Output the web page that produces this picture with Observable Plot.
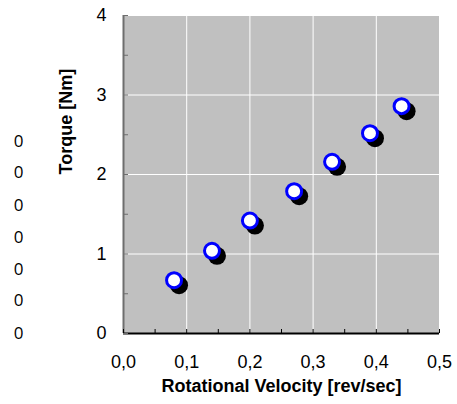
<!DOCTYPE html>
<html>
<head>
<meta charset="utf-8">
<script src="https://cdn.jsdelivr.net/npm/d3@7"></script>
<script src="https://cdn.jsdelivr.net/npm/@observablehq/plot@0.6"></script>
<style>
  html, body { margin: 0; padding: 0; background: #fff; }
  #chart svg { display: block; }
</style>
</head>
<body>
<div id="chart"></div>
<script>
// Data
const velocity = [0.08, 0.14, 0.20, 0.27, 0.33, 0.39, 0.44];
const torque   = [0.67, 1.04, 1.42, 1.79, 2.16, 2.52, 2.86];

const xTicks = [0, 0.1, 0.2, 0.3, 0.4, 0.5];
const xTickLabels = ["0,0", "0,1", "0,2", "0,3", "0,4", "0,5"];
const xMinorTicks = [0, 0.05, 0.1, 0.15, 0.2, 0.25, 0.3, 0.35, 0.4, 0.45, 0.5];
const yTicks = [0, 1, 2, 3, 4];
const yTickLabels = ["0", "1", "2", "3", "4"];
const yMinorTicks = [0, 0.5, 1, 1.5, 2, 2.5, 3, 3.5, 4];

// stray labels at the far left of the reference
const strayLabels = ["0", "0", "0", "0", "0", "0", "0"];
const strayLevels = [2.42, 2.02, 1.61, 1.21, 0.81, 0.41, 0];

const xTitle = "Rotational Velocity [rev/sec]";
const yTitle = "Torque [Nm]";

const points = velocity.map((v, i) => ({v, t: torque[i]}));
const stray = strayLabels.map((s, i) => ({s, y: strayLevels[i]}));

const chart = Plot.plot({
  width: 457,
  height: 404,
  marginLeft: 123,
  marginRight: 18,
  marginTop: 15,
  marginBottom: 71,
  style: {fontFamily: "'Liberation Sans', Arial, sans-serif", background: "#fff", color: "#000"},
  x: {domain: [0, 0.5], axis: null},
  y: {domain: [0, 4], axis: null},
  marks: [
    Plot.frame({fill: "#c0c0c0", stroke: null}),
    Plot.gridX(xTicks, {stroke: "#fff", strokeOpacity: 1, strokeWidth: 1}),
    Plot.gridY(yTicks, {stroke: "#fff", strokeOpacity: 1, strokeWidth: 1}),
    Plot.ruleX([0], {stroke: "#6e6e6e", strokeWidth: 2}),
    Plot.ruleY([0], {stroke: "#000", strokeWidth: 2}),
    // inward tick marks
    Plot.axisY(yMinorTicks, {anchor: "left", tickSize: 5, dx: 5, text: null, stroke: "#6e6e6e", label: null}),
    Plot.axisX(xMinorTicks, {anchor: "bottom", tickSize: 4, dy: -4, text: null, stroke: "#000", label: null}),
    // tick labels
    Plot.axisY(yTicks, {anchor: "left", tickSize: 0, tickPadding: 17, fontSize: 18,
      tickFormat: (d) => yTickLabels[yTicks.indexOf(d)], label: null}),
    Plot.axisX(xTicks, {anchor: "bottom", tickSize: 0, tickPadding: 22, fontSize: 18,
      tickFormat: (d) => xTickLabels[xTicks.indexOf(d)], label: null}),
    // axis titles
    Plot.text([xTitle], {frameAnchor: "bottom", dy: 58, fontWeight: "bold", fontSize: 18, fill: "#000"}),
    Plot.text([yTitle], {frameAnchor: "left", dx: -57, rotate: -90, fontWeight: "bold", fontSize: 18, fill: "#000"}),
    // stray zeros
    Plot.text(stray, {x: () => 0, y: "y", text: "s", dx: -105, fontSize: 17, fontFamily: "'Open Sans', sans-serif", fill: "#000"}),
    // points: shadow then marker
    Plot.dot(points, {x: "v", y: "t", r: 9, fill: "#000", stroke: null, dx: 5, dy: 5}),
    Plot.dot(points, {x: "v", y: "t", r: 7.5, fill: "#fff", stroke: "#0000ff", strokeWidth: 3})
  ]
});
document.getElementById("chart").append(chart);
</script>
</body>
</html>
